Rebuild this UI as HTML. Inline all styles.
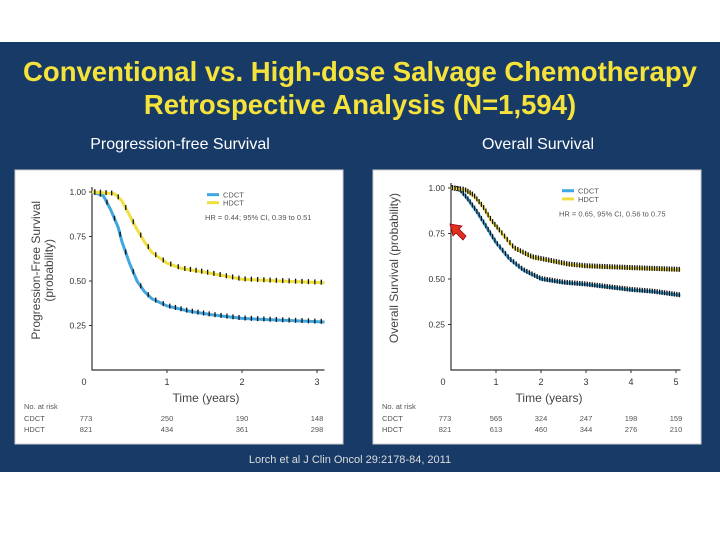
<!DOCTYPE html>
<html><head><meta charset="utf-8"><style>
body{margin:0;width:720px;height:540px;background:#fff;overflow:hidden;font-family:"Liberation Sans",sans-serif}
#slide{position:absolute;left:0;top:42px;width:720px;height:430px;background:#173a67}
.t{position:absolute;width:720px;text-align:center;color:#f5e23a;font-weight:bold;font-size:27.5px}
.st{position:absolute;color:#fff;font-size:16px;text-align:center}
svg{position:absolute;left:0;top:0}
</style></head><body>
<div id="slide"></div>
<div class="t" style="top:56px">Conventional vs. High-dose Salvage Chemotherapy</div>
<div class="t" style="top:89px">Retrospective Analysis (N=1,594)</div>
<div class="st" style="left:60px;width:240px;top:136px">Progression-free Survival</div>
<div class="st" style="left:418px;width:240px;top:136px">Overall Survival</div>
<div class="st" style="left:200px;width:300px;top:454px;font-size:11px;color:#ddd">Lorch et al J Clin Oncol 29:2178-84, 2011</div>
<svg id="svg" width="720" height="540"></svg>
<script>
const pfsT=[0,0.15,0.25,0.35,0.4,0.5,0.6,0.7,0.8,1,1.3,1.6,2,2.5,3.1];
const pfsCDCT=[1,0.98,0.9,0.8,0.72,0.6,0.5,0.44,0.4,0.36,0.33,0.31,0.29,0.28,0.27];
const pfsHT=[0,0.3,0.4,0.5,0.6,0.7,0.8,1,1.2,1.5,2,2.5,3.1];
const pfsHDCT=[1,0.99,0.95,0.87,0.79,0.72,0.66,0.6,0.57,0.55,0.51,0.5,0.49];
const osT=[0,0.2,0.4,0.6,0.8,1,1.3,1.6,2,2.5,3,4,4.5,5.1];
const osCDCT=[1,0.99,0.93,0.86,0.78,0.7,0.61,0.55,0.5,0.48,0.47,0.44,0.43,0.41];
const osHT=[0,0.3,0.5,0.7,0.9,1.1,1.4,1.8,2.2,2.6,3,4,5.1];
const osHDCT=[1,0.99,0.96,0.9,0.82,0.76,0.67,0.62,0.6,0.58,0.57,0.56,0.55];
const yTicks=[0.25,0.5,0.75,1];
const yTickLabels=["0.25","0.50","0.75","1.00"];
const pfsX=[0,1,2,3];
const osX=[0,1,2,3,4,5];
const pfsRiskC=["773","250","190","148"],pfsRiskH=["821","434","361","298"];
const osRiskC=["773","565","324","247","198","159"],osRiskH=["821","613","460","344","276","210"];
const svg=document.getElementById('svg');const NS='http://www.w3.org/2000/svg';
function mk(tag,at,txt){const e=document.createElementNS(NS,tag);for(const k in at)e.setAttribute(k,at[k]);if(txt!==undefined)e.textContent=txt;svg.appendChild(e);return e;}
function panel(cfg){
 const bx=mk('rect',{x:cfg.bx,y:170,width:328,height:274,fill:'#fff',stroke:'#ccc'});
 
 
 const X=t=>cfg.x0+t*cfg.dx, Y=v=>370-(v)*cfg.dy*4;
 const ax=mk('path',{d:`M${cfg.x0} ${Y(1)-5}V370H${X(cfg.xmax)}`,stroke:'#333',fill:'none','stroke-width':1.2});
 
 
 yTicks.forEach((v,i)=>{mk('line',{x1:cfg.x0-3,x2:cfg.x0,y1:Y(v),y2:Y(v),stroke:'#333'});
  const l=mk('text',{x:cfg.x0-6,y:Y(v)+3,'font-size':8.5,'text-anchor':'end',fill:'#333'},yTickLabels[i]);
  
  });
 cfg.xt.forEach((t,i)=>{if(t>0)mk('line',{x1:X(t),x2:X(t),y1:370,y2:373,stroke:'#333'});
  const l=mk('text',{x:t==0?X(t)-8:X(t),y:385,'font-size':9,'text-anchor':'middle',fill:'#333'},String(t));
  
  
  const a=mk('text',{x:t==0?X(t)-6:X(t),y:421,'font-size':7.5,'text-anchor':'middle',fill:'#555'},cfg.rc[i]);
  
  
  const b=mk('text',{x:t==0?X(t)-6:X(t),y:432,'font-size':7.5,'text-anchor':'middle',fill:'#555'},cfg.rh[i]);
  
  });
 const xt=mk('text',{x:cfg.xtitle,y:402,'font-size':12,'text-anchor':'middle',fill:'#444'},'Time (years)');
 
 
 const yt=mk('text',{x:0,y:0,'font-size':12,'text-anchor':'middle',fill:'#444',transform:`translate(${cfg.bx+25},${Y(0.56)}) rotate(-90)`},cfg.ytitle);
 
 
 if(cfg.ytitle2){const y2=mk('text',{x:0,y:0,'font-size':12,'text-anchor':'middle',fill:'#444',transform:`translate(${cfg.bx+38},${Y(0.56)}) rotate(-90)`},cfg.ytitle2);
  
  }
 [['No. at risk',409],['CDCT',421],['HDCT',432]].forEach(([s,y])=>{const e=mk('text',{x:cfg.bx+9,y:y,'font-size':7.5,fill:'#555'},s);
  
  });
 function curve(T,V,col,nm){const d=T.map((t,i)=>(i?'L':'M')+X(t)+' '+Y(V[i])).join('');
  const p=mk('path',{d:d,stroke:col,'stroke-width':3,fill:'none','stroke-linejoin':'round'});
  
  
  for(let i=1;i<T.length;i++){const n=Math.round((T[i]-T[i-1])*cfg.dens);for(let k=0;k<n;k++){const f=(k+0.5)/n;const t=T[i-1]+f*(T[i]-T[i-1]);const v=V[i-1]+f*(V[i]-V[i-1]);
   const c=mk('line',{x1:X(t),x2:X(t),y1:Y(v)-3,y2:Y(v)+2,stroke:'#111','stroke-width':1.3});
   
   }}}
 curve(cfg.cT,cfg.cV,'#3fa6e0','cdct');curve(cfg.hT,cfg.hV,'#efe040','hdct');
 const lx=cfg.x0+cfg.lx;
 mk('line',{x1:lx,x2:lx+12,y1:Y(0.985),y2:Y(0.985),stroke:'#3fa6e0','stroke-width':3});
 mk('line',{x1:lx,x2:lx+12,y1:Y(0.94),y2:Y(0.94),stroke:'#efe040','stroke-width':3});
 const l1=mk('text',{x:lx+16,y:Y(0.985)+3,'font-size':7.5,fill:'#555'},'CDCT');
 
 
 const l2=mk('text',{x:lx+16,y:Y(0.94)+3,'font-size':7.5,fill:'#555'},'HDCT');
 
 
 const hr=mk('text',{x:cfg.x0+cfg.hrx,y:Y(0.86)+3,'font-size':7.5,fill:'#555'},cfg.hr);
 
 
}
panel({id:'pfs',bx:15,x0:92,dx:75,xmax:3.1,dy:44.5/1,xt:pfsX,rc:pfsRiskC,rh:pfsRiskH,xtitle:206,ytitle:'Progression-Free Survival',ytitle2:'(probability)',cT:pfsT,cV:pfsCDCT,hT:pfsHT,hV:pfsHDCT,dens:12,lx:115,hrx:113,hr:'HR = 0.44; 95% CI, 0.39 to 0.51'});
panel({id:'os',bx:373,x0:451,dx:45,xmax:5.1,dy:45.5,xt:osX,rc:osRiskC,rh:osRiskH,xtitle:549,ytitle:'Overall Survival (probability)',cT:osT,cV:osCDCT,hT:osHT,hV:osHDCT,dens:18,lx:111,hrx:108,hr:'HR = 0.65, 95% CI, 0.56 to 0.75'});
const ar=mk('polygon',{points:'450,224 462,226 459,229 466,236 463,240 456,233 453,236',fill:'#e0301e',stroke:'#901',"stroke-width":0.8});


</script>
</body></html>
